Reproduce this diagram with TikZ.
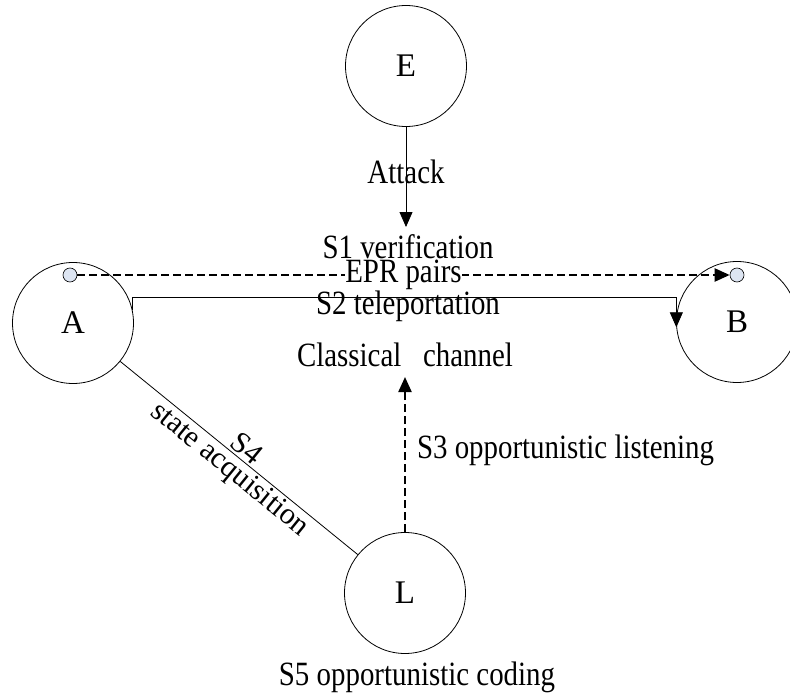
\documentclass[tikz,border=0pt]{standalone}
\usepackage{fontspec}
\setmainfont{Liberation Serif}
\usetikzlibrary{arrows.meta}
\definecolor{qubitfill}{RGB}{221,229,242}

\begin{document}
\begin{tikzpicture}[x=1pt,y=-1pt,
  party/.style={draw, circle, minimum size=121pt, inner sep=0pt, line width=0.8pt, font=\fontsize{33}{36}\selectfont},
  lbl/.style={font=\fontsize{34}{36}\selectfont, xscale=0.85, inner sep=1pt},
  slbl/.style={font=\fontsize{30}{32}\selectfont, inner sep=2pt, sloped},
  qubit/.style={draw, circle, minimum size=14pt, inner sep=0pt, fill=qubitfill, line width=0.6pt},
  tip/.style={-{Triangle[length=15pt,width=13pt]}},
  conn/.style={line width=0.8pt},
  dashline/.style={line width=2.2pt, dash pattern=on 8pt off 4pt}]
\useasboundingbox (0,0) rectangle (790,698);

%Parties
\node[party] (E) at (406,66) {E};
\node[party] (A) at (73,323) {A};
\node[party] (B) at (737,322) {B};
\node[party] (L) at (405,593) {L};

%Qubits
\node[qubit] (qa) at (70,275) {};
\node[qubit] (qb) at (737,275) {};

% Text Node
\node[lbl] (att) at (406,172) {Attack};
% Text Node
\node[lbl] (s1) at (408,247) {S1 verification};
% Text Node
\node[lbl] (s2) at (408,306) {S2 teleportation};
% Text Node
\node[lbl] (chan) at (405,355) {Classical\hspace{0.75em}channel};
% Text Node
\node[lbl, anchor=west] (s3) at (416,450) {S3 opportunistic listening};
% Text Node
\node[lbl] (s5) at (417,677) {S5 opportunistic coding};

%Free ends
\coordinate (hit) at (406,227);
\coordinate (lvl) at (400,297);
\coordinate (cc) at (405,377);

%Attack
\draw[conn, tip] (E) -- (hit);
%EPR pairs
\draw[dashline, tip] (qa) -- node[lbl, fill=white, inner sep=0pt] (epr) {EPR pairs} (qb);
%Teleportation
\draw[conn, tip] (A.12) -- (A.12 |- lvl) -| (B.185);
%Listening
\draw[dashline, tip] (L) -- (cc);
%State acquisition
\draw[conn] (A) -- node[slbl, above] (s4) {S4} node[slbl, below] (sacq) {state acquisition} (L);

\end{tikzpicture}
\end{document}
